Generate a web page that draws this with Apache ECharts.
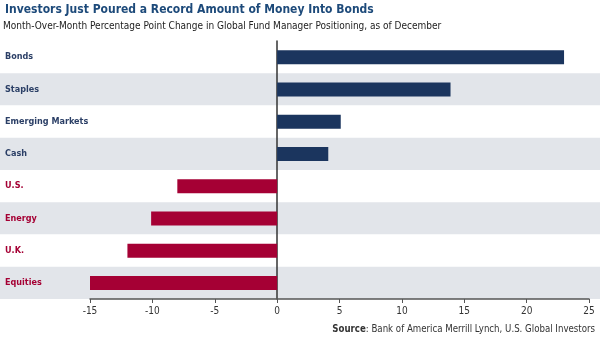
<!DOCTYPE html>
<html>
<head>
<meta charset="utf-8">
<script src="https://cdn.jsdelivr.net/npm/echarts@6/dist/echarts.min.js"></script>
<style>
  html, body { margin: 0; padding: 0; background: #fff; }
  #chart { width: 600px; height: 337px; }
</style>
</head>
<body>
<div id="chart"></div>
<script>
// Fund manager positioning, month-over-month change (percentage points)
const categories = ['Bonds', 'Staples', 'Emerging Markets', 'Cash', 'U.S.', 'Energy', 'U.K.', 'Equities'];
const changes = [23, 13.9, 5.1, 4.1, -8, -10.1, -12, -15.1];
const xTicks = { min: -15, max: 25, step: 5 };

const NAVY = '#1b355e';
const CRIMSON = '#a50034';
const LABEL_NAVY = '#2b3f66';
const BAND = '#e2e5ea';
const FONT = '"DejaVu Sans Condensed", "Liberation Sans", sans-serif';

const chart = echarts.init(document.getElementById('chart'), null, { renderer: 'canvas' });

chart.setOption({
  animation: false,
  backgroundColor: '#fff',
  title: [
    {
      text: 'Investors Just Poured a Record Amount of Money Into Bonds',
      left: 5, top: 4, padding: 0,
      textStyle: { fontFamily: FONT, fontWeight: 'bold', fontSize: 12, color: '#1d4a7a' }
    },
    {
      text: 'Month-Over-Month Percentage Point Change in Global Fund Manager Positioning, as of December',
      left: 3, top: 21, padding: 0,
      textStyle: { fontFamily: FONT, fontWeight: 'normal', fontSize: 10, color: '#222' }
    },
    {
      text: '{b|Source}: Bank of America Merrill Lynch, U.S. Global Investors',
      right: 5, bottom: 3, padding: 0,
      textStyle: {
        fontFamily: FONT, fontWeight: 'normal', fontSize: 9.6, color: '#333',
        rich: { b: { fontFamily: FONT, fontWeight: 'bold', fontSize: 9.6, color: '#333' } }
      }
    }
  ],
  grid: [
    { left: 90, right: 11, top: 41, bottom: 38 },
    { left: 0, right: 0, top: 41, bottom: 38 }
  ],
  xAxis: [
    {
      gridIndex: 0, type: 'value',
      min: xTicks.min, max: xTicks.max, interval: xTicks.step,
      axisLine: { show: true, lineStyle: { color: '#555', width: 1.5 } },
      axisTick: { show: true, length: 4, lineStyle: { color: '#555' } },
      axisLabel: { color: '#333', fontFamily: FONT, fontSize: 10, margin: 7 },
      splitLine: { show: false }
    },
    {
      gridIndex: 1, type: 'value', min: 0, max: 1, show: false
    }
  ],
  yAxis: [
    {
      gridIndex: 0, type: 'category', data: categories, inverse: true,
      axisLine: { show: true, onZero: true, lineStyle: { color: '#333', width: 1.5 } },
      axisTick: { show: false },
      axisLabel: { show: false },
      splitLine: { show: false }
    },
    {
      gridIndex: 1, type: 'category', data: categories, inverse: true,
      axisLine: { show: false },
      axisTick: { show: false },
      splitArea: { show: true, areaStyle: { color: ['#ffffff', BAND] } },
      axisLabel: {
        inside: true, margin: 5,
        fontFamily: FONT, fontWeight: 'bold', fontSize: 9,
        color: (value) => changes[categories.indexOf(value)] >= 0 ? LABEL_NAVY : CRIMSON
      }
    }
  ],
  series: [
    {
      type: 'bar',
      xAxisIndex: 0, yAxisIndex: 0,
      barWidth: 14,
      z: 5,
      data: changes.map(v => ({
        value: v,
        itemStyle: { color: v >= 0 ? NAVY : CRIMSON }
      }))
    }
  ]
});
</script>
</body>
</html>
